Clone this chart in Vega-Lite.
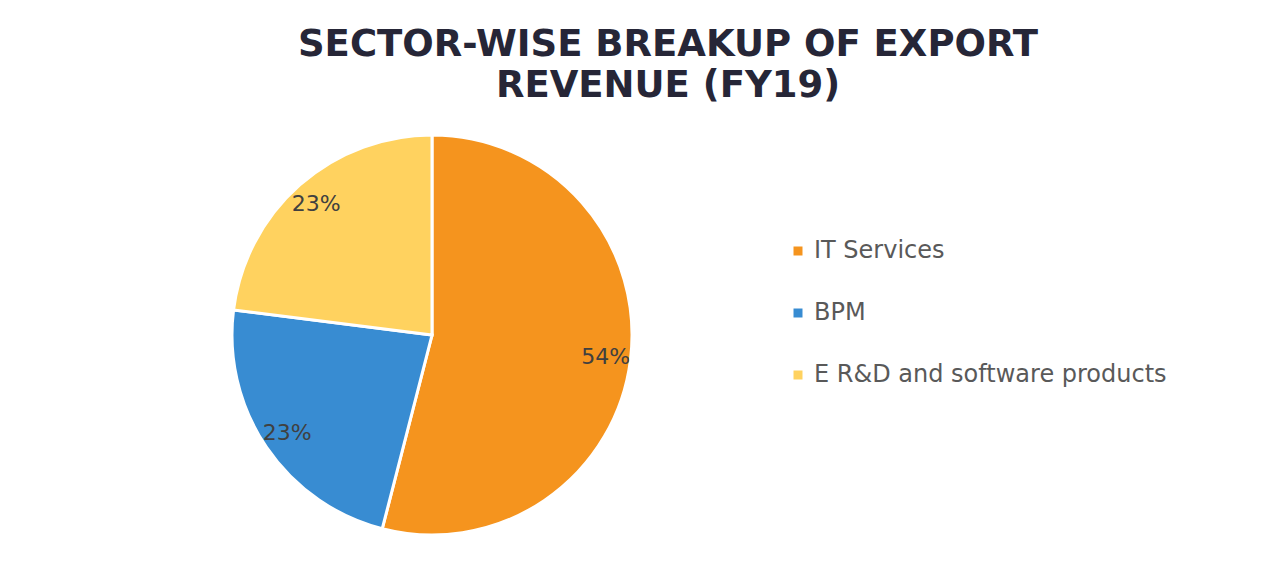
{
  "$schema": "https://vega.github.io/schema/vega-lite/v6.json",
  "autosize": {"type": "none"},
  "padding": {"left": 124, "top": 135, "right": 534, "bottom": 26},
  "width": 616,
  "height": 400,
  "background": "white",
  "title": {
    "text": ["SECTOR-WISE BREAKUP OF EXPORT", "REVENUE (FY19)"],
    "font": "DejaVu Sans",
    "fontSize": 37,
    "fontWeight": "bold",
    "color": "#262637",
    "lineHeight": 41,
    "anchor": "middle",
    "frame": "group",
    "dx": 236,
    "offset": 24
  },
  "data": {
    "values": [
      {"sector": "IT Services", "share": 0.54, "rank": 1},
      {"sector": "BPM", "share": 0.23, "rank": 2},
      {"sector": "E R&D and software products", "share": 0.23, "rank": 3}
    ]
  },
  "encoding": {
    "theta": {"field": "share", "type": "quantitative", "stack": true},
    "order": {"field": "rank", "type": "ordinal"},
    "color": {
      "field": "sector",
      "type": "nominal",
      "scale": {
        "domain": ["IT Services", "BPM", "E R&D and software products"],
        "range": ["#F5941E", "#388CD2", "#FFD25F"]
      },
      "legend": {
        "title": null,
        "orient": "none",
        "legendX": 662,
        "legendY": 104,
        "padding": 0,
        "symbolType": "square",
        "symbolSize": 81,
        "symbolStrokeWidth": 0,
        "rowPadding": 38,
        "labelFont": "DejaVu Sans",
        "labelFontSize": 24,
        "labelColor": "#595959",
        "labelOffset": 4,
        "labelLimit": 600
      }
    }
  },
  "layer": [
    {
      "mark": {"type": "arc", "outerRadius": 200, "stroke": "white", "strokeWidth": 3}
    },
    {
      "mark": {"type": "text", "radius": 175, "font": "DejaVu Sans", "fontSize": 22, "color": "#404040"},
      "encoding": {
        "text": {"field": "share", "type": "quantitative", "format": ".0%"},
        "color": {"value": "#404040"}
      }
    }
  ],
  "config": {"view": {"stroke": null}}
}
